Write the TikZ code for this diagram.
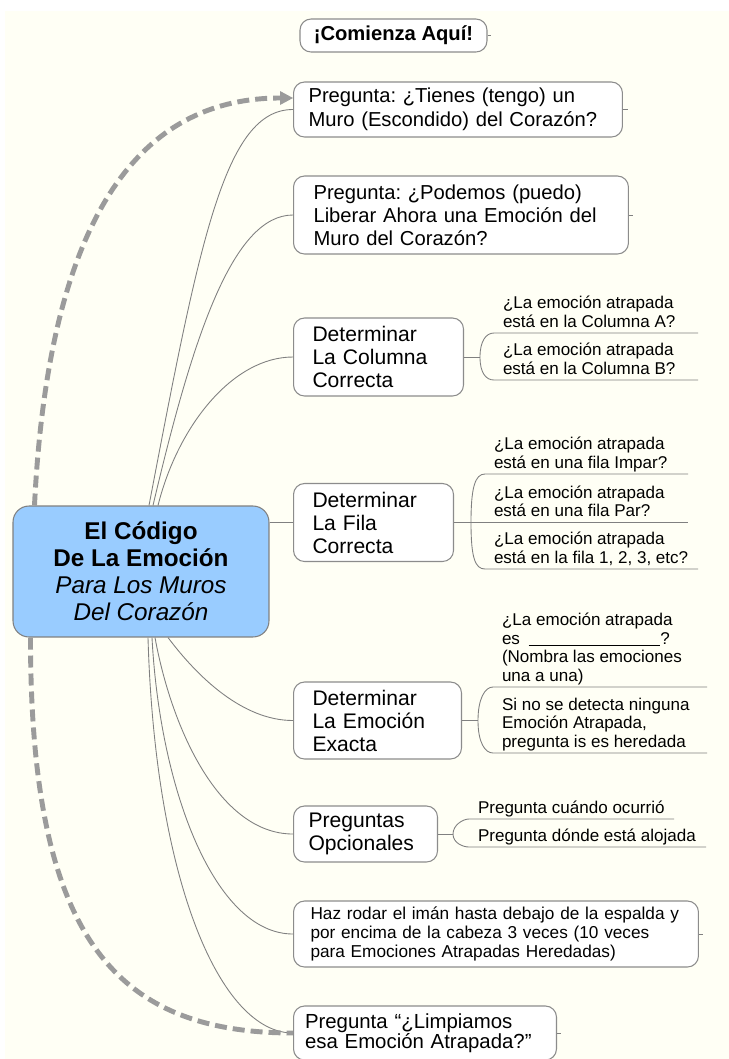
\documentclass[tikz,border=0pt]{standalone}
\usepackage{fontspec}
\setmainfont{Liberation Sans}
\usepackage{tikz}
\usetikzlibrary{arrows.meta}
\frenchspacing

\definecolor{paper}{RGB}{255,255,245}
\definecolor{boxline}{RGB}{140,140,140}
\definecolor{wire}{RGB}{128,128,128}
\definecolor{dashgray}{RGB}{155,155,155}
\definecolor{hubblue}{RGB}{153,204,255}

\tikzset{
  topic/.style={draw=boxline, fill=white, line width=0.6pt, rounded corners=0.22cm,
    anchor=west, align=left, inner ysep=0pt},
  hub/.style={draw=wire, fill=hubblue, line width=0.6pt, rounded corners=0.32cm,
    align=center, minimum width=5.12cm, minimum height=2.62cm,
    font=\fontsize{13.8}{15.4}\selectfont},
  leaf/.style={anchor=south west, align=left, inner xsep=0.18cm, inner ysep=0pt,
    outer sep=0pt, font=\fontsize{9.7}{10.6}\selectfont, execute at end node=\strut},
  branch/.style={draw=wire, line width=0.5pt},
  dashflow/.style={draw=dashgray, line width=2.8pt, dash pattern=on 0.24cm off 0.12cm},
}

\begin{document}
\begin{tikzpicture}[x=0.02cm,y=-0.02cm]
	  % Page and background
	  \fill[white] (0,0) rectangle (729,1059);
	  \useasboundingbox (0,0) rectangle (729,1059);
	  \fill[paper] (5,11) rectangle (729,1059);
	  % Central topic
	  \node[hub] (ctr) at (141,571.5) {\textbf{El Código}\\ \textbf{De La Emoción}\\
	      \textit{Para Los Muros}\\ \textit{Del Corazón}};
	  % Main topics
	  \node[topic, anchor=center, align=center, inner xsep=0pt, minimum width=3.74cm,
	      minimum height=0.66cm, font=\fontsize{11.5}{13}\selectfont\bfseries] (start)
	      at (393.5,35.5) {¡Comienza Aquí!};
	  \node[topic, inner xsep=0.3cm, text width=5.98cm, minimum height=1.1cm,
	      font=\fontsize{11.5}{13.6}\selectfont] (ask1) at (293,109.5)
	      {Pregunta: ¿Tienes (tengo) un\\ Muro (Escondido) del Corazón?};
	  \node[topic, inner xsep=0.4cm, text width=5.9cm, minimum height=1.56cm,
	      font=\fontsize{11.5}{13.2}\selectfont] (ask2) at (293,215)
	      {Pregunta: ¿Podemos (puedo)\\ Liberar Ahora una Emoción del\\ Muro del Corazón?};
	  \node[topic, inner xsep=0.38cm, text width=2.64cm, minimum height=1.56cm,
	      font=\fontsize{12}{13.1}\selectfont] (col) at (293,357)
	      {Determinar\\ La Columna\\ Correcta};
	  \node[topic, inner xsep=0.38cm, text width=2.44cm, minimum height=1.56cm,
	      font=\fontsize{12}{13.1}\selectfont] (row) at (293,522.5)
	      {Determinar\\ La Fila\\ Correcta};
	  \node[topic, inner xsep=0.38cm, text width=2.6cm, minimum height=1.54cm,
	      font=\fontsize{12}{13.1}\selectfont] (emo) at (293,720.5)
	      {Determinar\\ La Emoción\\ Exacta};
	  \node[topic, inner xsep=0.3cm, text width=2.28cm, minimum height=1.12cm,
	      font=\fontsize{12}{13.1}\selectfont] (opt) at (293,834)
	      {Preguntas\\ Opcionales};
	  \node[topic, inner xsep=0.34cm, text width=7.42cm, minimum height=1.32cm,
	      font=\fontsize{9.8}{10.9}\selectfont] (roll) at (293,934)
	      {Haz rodar el imán hasta debajo de la espalda y\\ por encima de la cabeza 3 veces (10 veces\\
	      para Emociones Atrapadas Heredadas)};
	  \node[topic, inner xsep=0.23cm, text width=4.8cm, minimum height=1.08cm,
	      font=\fontsize{11.6}{11.5}\selectfont] (clear) at (293,1033)
	      {Pregunta “¿Limpiamos\\ esa Emoción Atrapada?”};
	  % Collapsed branch marks
	  \draw[branch] (start.east) -- ++(3,0);
	  \draw[branch] (ask1.east) -- ++(5,0);
	  \draw[branch] (ask2.east) -- ++(4,0);
	  \draw[branch] (roll.east) -- ++(4,0);
	  \draw[branch] (clear.east) -- ++(4,0);
	  % Branches from the central topic
	  \draw[branch] ([xshift=0.16cm]ctr.north) .. controls +(51,-267) and +(-68,0) .. (ask1.west);
	  \draw[branch] ([xshift=0.24cm]ctr.north) .. controls +(40,-170) and +(-60,0) .. (ask2.west);
	  \draw[branch] ([xshift=0.34cm]ctr.north) .. controls +(20,-80) and +(-60,0) .. (col.west);
	  \draw[branch] (ctr.east |- row.west) -- (row.west);
	  \draw[branch] ([xshift=0.54cm]ctr.south) .. controls +(30,40) and +(-50,0) .. (emo.west);
	  \draw[branch] ([xshift=0.28cm]ctr.south) .. controls +(17,93) and +(-73,0) .. (opt.west);
	  \draw[branch] ([xshift=0.22cm]ctr.south) .. controls +(8,153) and +(-78,0) .. (roll.west);
	  \draw[branch] ([xshift=0.14cm]ctr.south) .. controls +(7,243) and +(-73,0) .. (clear.west);
	  % Loop back to the first question
	  \draw[dashflow, -{Triangle[length=0.26cm,width=0.28cm,line width=0pt]}]
	      ([xshift=0.44cm]ctr.north west) .. controls +(15,-306) and +(-143,0) .. ([yshift=0.23cm]ask1.west);
	  \draw[dashflow] ([xshift=0.36cm]ctr.south west) .. controls +(0,293) and +(-183,0) .. (clear.west);
	  % Column subtopics
	  \coordinate (colfork) at (480,357);
	  \coordinate (colend) at (698,357);
	  \node[leaf] (colA) at (494,333) {¿La emoción atrapada\\ está en la Columna A?};
	  \node[leaf] (colB) at (494,380) {¿La emoción atrapada\\ está en la Columna B?};
	  \draw[branch] (col.east) -- (colfork);
	  \draw[branch] (colfork) .. controls +(0,-16) and +(-8,0) .. (colA.south west) -- (colA.south west -| colend);
	  \draw[branch] (colfork) .. controls +(0,16) and +(-8,0) .. (colB.south west) -- (colB.south west -| colend);
	  % Row subtopics
	  \coordinate (rowfork) at (471,522.5);
	  \coordinate (rowend) at (688,522.5);
	  \coordinate (rowlast) at (698,569);
	  \node[leaf] (rowA) at (485,474) {¿La emoción atrapada\\ está en una fila Impar?};
	  \node[leaf] (rowB) at (485,522.5) {¿La emoción atrapada\\ está en una fila Par?};
	  \node[leaf] (rowC) at (485,569) {¿La emoción atrapada\\ está en la fila 1, 2, 3, etc?};
	  \draw[branch] (row.east) -- (rowfork);
	  \draw[branch] (rowfork) .. controls +(0,-35) and +(-10,0) .. (rowA.south west) -- (rowA.south west -| rowend);
	  \draw[branch] (rowfork) -- (rowB.south west) -- (rowend);
	  \draw[branch] (rowfork) .. controls +(0,35) and +(-10,0) .. (rowC.south west) -- (rowlast);
	  % Emotion subtopics
	  \coordinate (emofork) at (478,720.5);
	  \coordinate (emoend) at (707,720.5);
	  \node[leaf] (emoA) at (493,687) {¿La emoción atrapada\\
	      es\hspace{0.5em}\rule[-1.2pt]{2.64cm}{0.45pt}?\\ (Nombra las emociones\\ una a una)};
	  \node[leaf] (emoB) at (493,753) {Si no se detecta ninguna\\
	      Emoción Atrapada,\\ pregunta is es heredada};
	  \draw[branch] (emo.east) -- (emofork);
	  \draw[branch] (emofork) .. controls +(0,-22) and +(-8,0) .. (emoA.south west) -- (emoA.south west -| emoend);
	  \draw[branch] (emofork) .. controls +(0,22) and +(-8,0) .. (emoB.south west) -- (emoB.south west -| emoend);
	  % Optional subtopics
	  \coordinate (optfork) at (453,834);
	  \coordinate (optend) at (674,819);
	  \coordinate (optlast) at (706,847);
	  \node[leaf] (optA) at (469,819) {Pregunta cuándo ocurrió};
	  \node[leaf] (optB) at (469,847) {Pregunta dónde está alojada};
	  \draw[branch] (opt.east) -- (optfork);
	  \draw[branch] (optfork) .. controls +(0,-9) and +(-6,0) .. (optA.south west) -- (optend);
	  \draw[branch] (optfork) .. controls +(0,9) and +(-6,0) .. (optB.south west) -- (optlast);
\end{tikzpicture}
\end{document}
